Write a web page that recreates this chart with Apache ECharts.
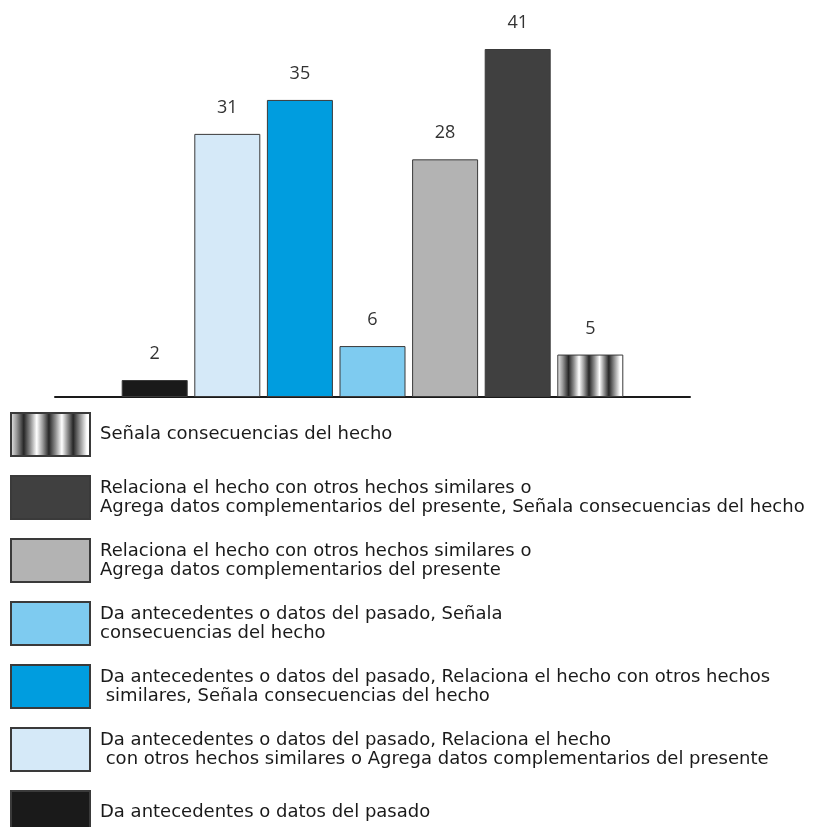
<!DOCTYPE html>
<html>
<head>
<meta charset="utf-8">
<script src="https://cdn.jsdelivr.net/npm/echarts@6/dist/echarts.min.js"></script>
<style>
  html, body { margin: 0; padding: 0; background: #fff; }
  #chart { width: 823px; height: 827px; }
</style>
</head>
<body>
<div id="chart"></div>
<script>
// series names (legend text), in bar order left to right
let seriesNames = [
    'Da antecedentes o datos del pasado',
    'Da antecedentes o datos del pasado, Relaciona el hecho\n con otros hechos similares o Agrega datos complementarios del presente',
    'Da antecedentes o datos del pasado, Relaciona el hecho con otros hechos\n similares, Señala consecuencias del hecho',
    'Da antecedentes o datos del pasado, Señala\nconsecuencias del hecho',
    'Relaciona el hecho con otros hechos similares o\nAgrega datos complementarios del presente',
    'Relaciona el hecho con otros hechos similares o\nAgrega datos complementarios del presente, Señala consecuencias del hecho',
    'Señala consecuencias del hecho'
];
let values = [2, 31, 35, 6, 28, 41, 5];

// striped fill for last one
let stripes = new echarts.graphic.LinearGradient(0, 0, 1, 0, [
    { offset: 0, color: '#f2f2f2' },
    { offset: 0.08, color: '#9a9a9a' },
    { offset: 0.17, color: '#262626' },
    { offset: 0.25, color: '#8c8c8c' },
    { offset: 0.33, color: '#ffffff' },
    { offset: 0.40, color: '#a0a0a0' },
    { offset: 0.48, color: '#262626' },
    { offset: 0.56, color: '#8c8c8c' },
    { offset: 0.64, color: '#ffffff' },
    { offset: 0.70, color: '#a0a0a0' },
    { offset: 0.78, color: '#262626' },
    { offset: 0.86, color: '#8c8c8c' },
    { offset: 0.95, color: '#ffffff' },
    { offset: 1, color: '#ffffff' }
]);
let colors = ['#1a1a1a', '#d5e9f8', '#009ddf', '#7ecbf0', '#b3b3b3', '#404040', stripes];

let myChart = echarts.init(document.getElementById('chart'));

let series = [];
for (let i = 0; i < values.length; i++) {
    series.push({
        name: seriesNames[i],
        type: 'bar',
        barWidth: 66,
        barGap: '10%',
        data: [values[i]],
        itemStyle: {
            color: colors[i],
            borderColor: '#3a3a3a',
            borderWidth: 1
        },
        label: {
            show: true,
            position: 'top',
            distance: 17,
            fontFamily: 'Open Sans',
            fontSize: 18,
            color: '#333'
        }
    });
}

myChart.setOption({
    animation: false,
    grid: {
        left: 55,
        right: 133,
        top: 49,
        bottom: 430
    },
    xAxis: {
        type: 'category',
        data: [''],
        axisLine: { lineStyle: { color: '#1a1a1a', width: 2 } },
        axisTick: { show: false },
        axisLabel: { show: false }
    },
    yAxis: {
        type: 'value',
        min: 0,
        max: 41,
        show: false,
        splitLine: { show: false }
    },
    legend: {
        orient: 'vertical',
        left: 10,
        top: 412,
        height: 700,
        padding: 0,
        itemWidth: 79,
        itemHeight: 43,
        itemGap: 18,
        icon: 'rect',
        data: seriesNames.slice().reverse(),
        textStyle: {
            fontFamily: 'DejaVu Sans',
            fontSize: 18,
            lineHeight: 19,
            color: '#1a1a1a',
            padding: [0, 0, 0, 5]
        }
    },
    series: series
});
</script>
</body>
</html>
